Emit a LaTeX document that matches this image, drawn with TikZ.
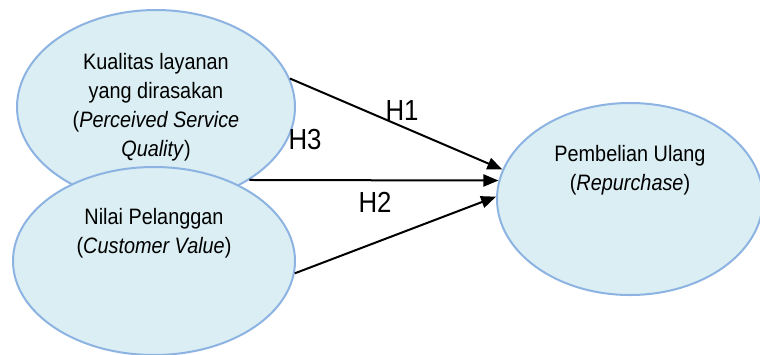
\documentclass[tikz,border=0pt]{standalone}
\usepackage{fontspec}
\setmainfont{Liberation Sans}[FakeStretch=0.89]
\usetikzlibrary{shapes.geometric,arrows.meta}
\definecolor{ovalline}{RGB}{141,179,226}
\definecolor{ovalfill}{RGB}{218,238,243}
\tikzset{
  oval/.style={ellipse,draw=ovalline,fill=ovalfill,line width=2pt,inner sep=0pt},
  hyp/.style={line width=2pt,-{Triangle[length=15pt,width=12pt]}},
  txt/.style={align=center,font=\fontsize{22.3}{29}\selectfont},
  hlabel/.style={font=\fontsize{29}{32}\selectfont},
}

\begin{document}
\begin{tikzpicture}[x=1pt,y=-1pt]
  \useasboundingbox (0,0) rectangle (760,354);
  \clip (0,0) rectangle (760,354);
  % the three variables
  \node[oval,minimum width=278pt,minimum height=194pt] (kual) at (156,107) {};
  \node[oval,minimum width=282pt,minimum height=188pt] (nilai) at (154,261) {};
  \node[oval,minimum width=266pt,minimum height=192pt] (ulang) at (630,199) {};
  \node[txt] (kualtxt) at (kual.center) {Kualitas layanan\\yang dirasakan\\(\textit{Perceived Service}\\\textit{Quality})};
  \node[txt] (nilaitxt) at ([yshift=28pt]nilai.center) {Nilai Pelanggan\\(\textit{Customer Value})};
  \node[txt] (ulangtxt) at ([yshift=29pt]ulang.center) {Pembelian Ulang\\(\textit{Repurchase})};
  % hypotheses
  \foreach \from/\to in {kual.12/ulang.167, kual.322/ulang.172, nilai.355/ulang.179}
    \draw[hyp] (\from) -- (\to);
  \node[hlabel] (h1) at (402,111) {H1};
  \node[hlabel] (h2) at (375,202) {H2};
  \node[hlabel] (h3) at (305,140) {H3};
\end{tikzpicture}
\end{document}
